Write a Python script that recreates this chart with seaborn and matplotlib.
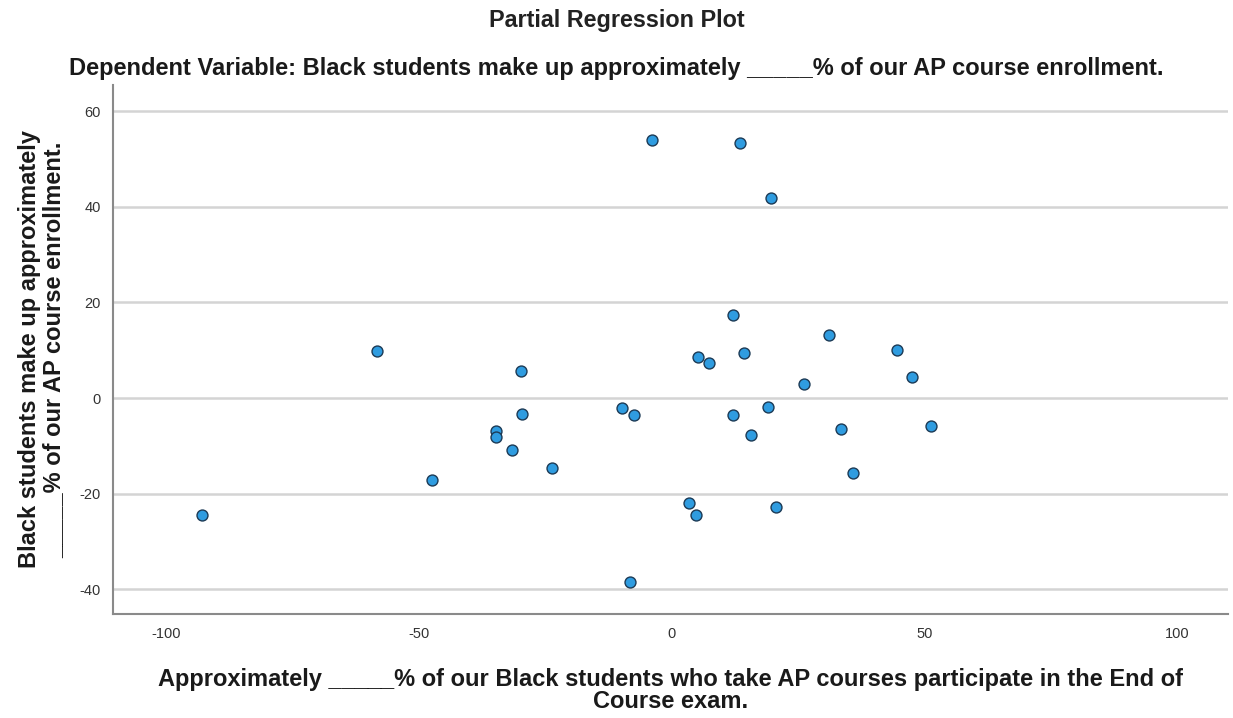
import pandas as pd
import matplotlib
matplotlib.use('Agg')
import matplotlib.pyplot as plt
import seaborn as sns

# partial residuals
x_resid = [-92.9, -58.4, -47.5, -34.8, -34.8, -31.6, -29.8, -29.6, -23.7,
           -9.8, -8.2, -7.5, -3.9, 3.4, 4.8, 5.2, 7.3, 12.0, 12.1, 13.5,
           14.2, 15.7, 19.0, 19.7, 20.6, 26.2, 31.0, 33.5, 35.8, 44.5, 47.5, 51.2]
y_resid = [-24.4, 9.8, -17.2, -7.0, -8.2, -10.9, 5.6, -3.3, -14.6,
           -2.0, -38.6, -3.6, 53.9, -22.0, -24.4, 8.6, 7.4, -3.6, 17.3, 53.3,
           9.5, -7.8, -1.8, 41.8, -22.7, 3.0, 13.1, -6.4, -15.6, 10.1, 4.4, -5.8]

x_ticks = [-100, -50, 0, 50, 100]
y_ticks = [-40, -20, 0, 20, 40, 60]

title = 'Partial Regression Plot'
subtitle = 'Dependent Variable: Black students make up approximately _____% of our AP course enrollment.'
x_label = 'Approximately _____% of our Black students who take AP courses participate in the End of\nCourse exam.'
y_label = 'Black students make up approximately\n_____% of our AP course enrollment.'

df = pd.DataFrame({'x': x_resid, 'y': y_resid})

sns.set_style('white')
plt.rcParams['font.family'] = ['Liberation Sans', 'DejaVu Sans']
plt.rcParams['axes.unicode_minus'] = False

fig = plt.figure(figsize=(12.33, 7.18), dpi=100)
ax = fig.add_axes([0.0917, 0.1448, 0.9043, 0.7368])

sns.scatterplot(data=df, x='x', y='y', ax=ax, s=62, color='#2f9ce0',
                edgecolor='#1c3a55', linewidth=1.0, zorder=3)

ax.set_xlim(-110.5, 110)
ax.set_ylim(-45.2, 65.5)
ax.set_xticks(x_ticks)
ax.set_yticks(y_ticks)
ax.tick_params(axis='both', length=0, labelsize=10.5, labelcolor='#333333', pad=9)

ax.yaxis.grid(True, color='#d4d4d4', linewidth=1.8)
ax.set_axisbelow(True)
for side in ['top', 'right']:
    ax.spines[side].set_visible(False)
for side in ['left', 'bottom']:
    ax.spines[side].set_color('#8a8a8a')
    ax.spines[side].set_linewidth(1.5)

ax.set_xlabel(x_label, fontsize=17, fontweight='bold', color='#1a1a1a',
              labelpad=20, linespacing=0.92)
ax.set_ylabel(y_label, fontsize=17, fontweight='bold', color='#1a1a1a',
              labelpad=10, linespacing=1.1)

fig.text(0.5, 0.971, title, ha='center', va='center', fontsize=16.8,
         fontweight='bold', color='#222222')
fig.text(0.5, 0.905, subtitle, ha='center', va='center', fontsize=17,
         fontweight='bold', color='#1a1a1a')

fig.savefig('out.png', dpi=100)
